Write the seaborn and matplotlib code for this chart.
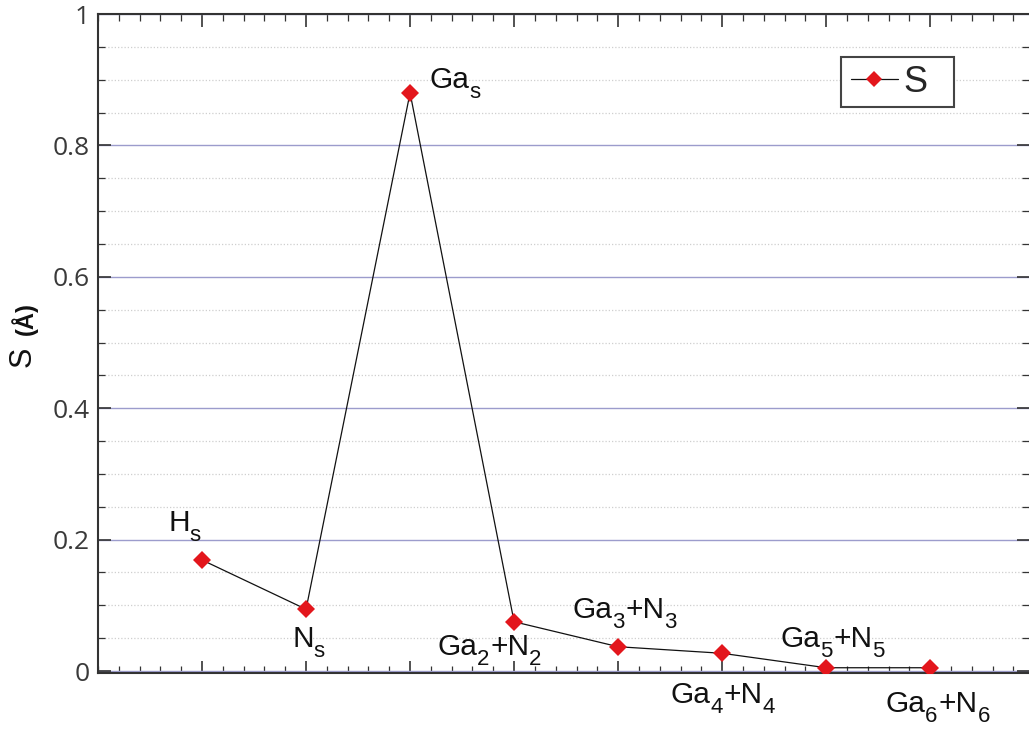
import matplotlib
matplotlib.use("Agg")
import matplotlib.pyplot as plt
import seaborn as sns
import numpy as np
import pandas as pd
from matplotlib.ticker import MultipleLocator, FixedLocator
from matplotlib.patches import Rectangle

# ---- data ----
categories = ["Hs", "Ns", "Gas", "Ga2+N2", "Ga3+N3", "Ga4+N4", "Ga5+N5", "Ga6+N6"]
# label pieces: (text, is_subscript)
label_parts = [
    [("H", False), ("s", True)],
    [("N", False), ("s", True)],
    [("Ga", False), ("s", True)],
    [("Ga", False), ("2", True), ("+N", False), ("2", True)],
    [("Ga", False), ("3", True), ("+N", False), ("3", True)],
    [("Ga", False), ("4", True), ("+N", False), ("4", True)],
    [("Ga", False), ("5", True), ("+N", False), ("5", True)],
    [("Ga", False), ("6", True), ("+N", False), ("6", True)],
]
positions = [1, 2, 3, 4, 5, 6, 7, 8]
s_values = [0.169, 0.094, 0.880, 0.075, 0.037, 0.027, 0.005, 0.005]
# label offsets in pixels (dx, dy) relative to each point, baseline-left anchored
label_offsets = [(-34, 29), (-14, -38), (19, 5), (-77, -33), (-46, 29), (-52, -50), (-46, 21), (-45, -44)]
y_ticks = [0, 0.2, 0.4, 0.6, 0.8, 1.0]
y_ticklabels = ["0", "0.2", "0.4", "0.6", "0.8", "1"]

df = pd.DataFrame({"pos": positions, "S": s_values, "cat": categories})

sns.set_theme(style="white")
plt.rcParams["font.family"] = ["Liberation Sans", "DejaVu Sans"]

fig = plt.figure(figsize=(10.29, 7.29), dpi=100)
ax = fig.add_axes([98 / 1029, 1 - 673 / 729, 1 - 98 / 1029, (673 - 14) / 729])

red = "#e3161c"
sns.lineplot(data=df, x="pos", y="S", ax=ax, color="#111111", lw=0.9,
             marker="D", markersize=9.5, markerfacecolor=red, markeredgecolor=red,
             markeredgewidth=0, label="S", zorder=5)

ax.set_xlim(0, 8.95)
ax.set_ylim(-0.003, 1.0)

# grid
ax.yaxis.set_major_locator(FixedLocator(y_ticks))
ax.yaxis.set_minor_locator(MultipleLocator(0.05))
ax.xaxis.set_major_locator(FixedLocator(positions))
ax.xaxis.set_minor_locator(MultipleLocator(0.2))
ax.grid(False)
ax.grid(True, which="major", axis="y", color="#9c9ccc", lw=1.0, ls="-", zorder=0)
ax.grid(True, which="minor", axis="y", color="#cfcfcf", lw=0.9, ls=(0, (1, 1.6)), zorder=0)
ax.set_axisbelow(True)

ax.set_yticklabels(y_ticklabels)
ax.set_xticklabels([])
ax.tick_params(axis="both", which="major", direction="in", length=9, width=1.2,
               color="#333333", top=True, right=True, bottom=True, left=True)
ax.tick_params(axis="both", which="minor", direction="in", length=5, width=0.9,
               color="#333333", top=True, right=True, bottom=True, left=True)
ax.tick_params(axis="y", which="major", labelsize=19, labelcolor="#3a3a3a", pad=6)
for t in ax.get_yticklabels():
    t.set_fontfamily(["Open Sans", "DejaVu Sans"])

for side in ["left", "bottom", "top"]:
    ax.spines[side].set_color("#333333")
    ax.spines[side].set_linewidth(1.5)
ax.spines["right"].set_visible(False)

ax.set_xlabel("")
ax.set_ylabel("")
# y-axis label "S(Å)"
fig.text(23 / 1029, 1 - 357 / 729, "S", rotation=90, fontsize=22, ha="center", va="center",
         color="#111111")
fig.text(24 / 1029, 1 - 319 / 729, "(Å)", rotation=90, fontsize=17, fontweight="bold",
         ha="center", va="center", color="#111111")

# point labels built from pieces (main text + dropped subscripts)
renderer = fig.canvas.get_renderer()
main_size, sub_size, sub_drop = 21.5, 16, 10
for x, y, parts, (dx, dy) in zip(positions, s_values, label_parts, label_offsets):
    cur = dx
    for txt, is_sub in parts:
        t = ax.annotate(txt, (x, y), xytext=(cur, dy - (sub_drop if is_sub else 0)),
                        textcoords="offset pixels", ha="left", va="baseline",
                        fontsize=sub_size if is_sub else main_size,
                        color="#111111", zorder=6)
        cur += t.get_window_extent(renderer).width + (1 if is_sub else 0)

# legend: contents positioned inside a manually drawn box
leg = ax.legend(loc="center left", bbox_to_anchor=(851 / 1029, 1 - 82 / 729),
                bbox_transform=fig.transFigure, borderaxespad=0, borderpad=0,
                frameon=False, fontsize=26, handlelength=1.3, handletextpad=0.15)
leg.set_zorder(10)
for h in leg.legend_handles:
    h.set_markersize(8.5)
box = Rectangle((841 / 1029, 1 - 107 / 729), 113 / 1029, 50 / 729,
                transform=fig.transFigure, facecolor="white",
                edgecolor="#444444", lw=1.5, zorder=8, clip_on=False)
ax.add_patch(box)

fig.savefig("out.png", dpi=100)
